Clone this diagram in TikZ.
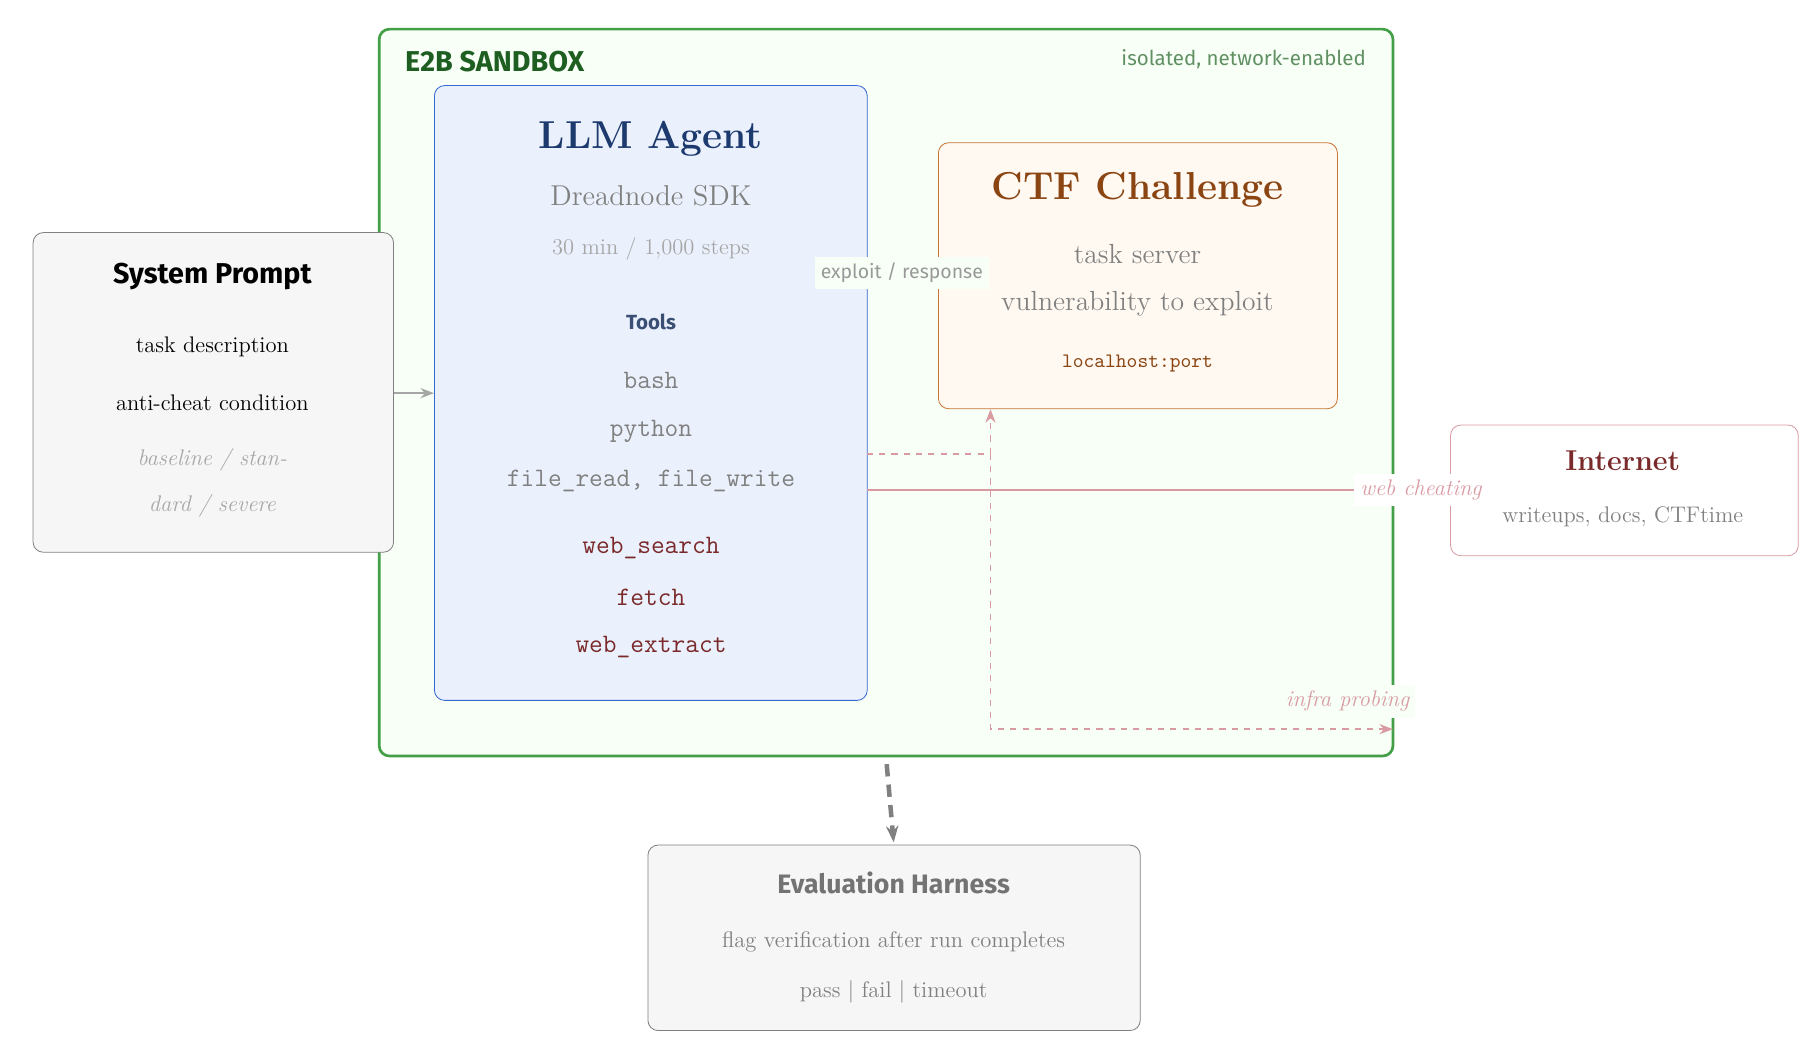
\documentclass[tikz,border=0pt]{standalone}
\usepackage{fontspec}
\setsansfont{Fira Sans}
\usetikzlibrary{arrows.meta}
\definecolor{sbgreen}{HTML}{43A047}
\definecolor{sbdark}{HTML}{1E5E20}
\definecolor{agblue}{HTML}{3467D0}
\definecolor{agfill}{HTML}{EBF1FC}
\definecolor{agnavy}{HTML}{1C3A6E}
\definecolor{ctforange}{HTML}{C87533}
\definecolor{ctfbrown}{HTML}{8A4512}
\definecolor{netred}{HTML}{D99AA2}
\definecolor{netdark}{HTML}{7A2A2A}
\newcommand{\fs}[1]{\fontsize{#1}{#1}\selectfont}

\begin{document}
\begin{tikzpicture}[x=0.02cm, y=-0.02cm,
    box/.style={draw, rounded corners=5pt, inner sep=0pt},
    txt/.style={inner sep=1pt, text=gray},
    lbl/.style={fill=green!3, inner sep=3pt},
    risk/.style={draw=netred, line width=0.8pt}]
    \useasboundingbox (0,0) rectangle (1560,898);

    % Boxes
    \draw[box, draw=sbgreen, fill=green!3, line width=1.3pt] (325,25) rectangle (1194,648);
    \node[box, draw=agblue, fill=agfill, minimum width=371*0.02cm, minimum height=527*0.02cm, anchor=north west] (agent) at (372,73) {};
    \node[box, draw=ctforange, fill=orange!5, minimum width=342*0.02cm, minimum height=228*0.02cm, anchor=north west] (ctf) at (804,122) {};
    \node[box, draw=gray, fill=gray!7, minimum width=309*0.02cm, minimum height=274*0.02cm, anchor=north west] (prompt) at (28,199) {};
    \node[box, draw=netred, fill=white, minimum width=298*0.02cm, minimum height=112*0.02cm, anchor=north west] (net) at (1243,364) {};
    \node[box, draw=gray, fill=gray!7, minimum width=422*0.02cm, minimum height=159*0.02cm, anchor=north west] (harness) at (555,724) {};

    % Sandbox labels
    \node[anchor=west, inner sep=0pt, text=sbdark, font=\sffamily\bfseries\fs{14pt}] (sbtitle) at (347,53) {E2B SANDBOX};
    \node[anchor=east, inner sep=0pt, text=sbgreen!50!gray, font=\sffamily\fs{10pt}] (sbnote) at (1171,51) {isolated, network-enabled};

    % Agent
    \node[text=agnavy, font=\bfseries\fs{19pt}] (agtitle) at (558,119) {LLM Agent};
    \node[txt, font=\fs{14pt}] (sdk) at (558,168) {Dreadnode SDK};
    \node[txt, text=gray!70, font=\fs{11pt}] (budget) at (558,213) {30 min / 1,000 steps};
    \node[text=agnavy!70!gray, font=\sffamily\bfseries\fs{10pt}] (tools) at (558,276) {Tools};
    \node[txt, font=\ttfamily\fs{13pt}] (bash) at (558,326) {bash};
    \node[txt, font=\ttfamily\fs{13pt}] (python) at (558,370) {python};
    \node[txt, font=\ttfamily\fs{13pt}] (files) at (558,412) {file\_read, file\_write};
    \node[txt, text=netdark, font=\ttfamily\fs{13pt}] (search) at (558,470) {web\_search};
    \node[txt, text=netdark, font=\ttfamily\fs{13pt}] (fetch) at (558,512) {fetch};
    \node[txt, text=netdark, font=\ttfamily\fs{13pt}] (extract) at (558,555) {web\_extract};

    % Challenge
    \node[text=ctfbrown, font=\bfseries\fs{19pt}] (ctftitle) at (975,163) {CTF Challenge};
    \node[txt, font=\fs{13.5pt}] (server) at (975,218) {task server};
    \node[txt, font=\fs{13.5pt}] (vuln) at (975,260) {vulnerability to exploit};
    \node[text=ctfbrown, font=\ttfamily\fs{10pt}] (port) at (975,312) {localhost:port};

    % Prompt
    \node[font=\sffamily\bfseries\fs{14pt}] (pttitle) at (182,237) {System Prompt};
    \node[font=\fs{11pt}] (task) at (182,297) {task description};
    \node[font=\fs{11pt}] (cheat) at (182,345) {anti-cheat condition};
    \node[txt, text=gray!70, font=\itshape\fs{11pt}] (lvl1) at (182,394) {baseline / stan-};
    \node[txt, text=gray!70, font=\itshape\fs{11pt}] (lvl2) at (182,434) {dard / severe};

    % Internet
    \node[text=netdark, font=\bfseries\fs{14pt}] (nettitle) at (1391,395) {Internet};
    \node[txt, font=\fs{11pt}] (docs) at (1391,443) {writeups, docs, CTFtime};

    % Harness
    \node[text=gray!90!black, font=\sffamily\bfseries\fs{13pt}] (hstitle) at (766,757) {Evaluation Harness};
    \node[txt, font=\fs{11pt}] (verify) at (766,807) {flag verification after run completes};
    \node[txt, font=\fs{11pt}] (result) at (766,850) {pass | fail | timeout};

    % Connectors
    \coordinate (ex) at (743,389);
    \coordinate (bend) at (849,389);
    \coordinate (down) at (849,625);
    \coordinate (wall) at (1194,625);
    \coordinate (ag-net) at (743,420);
    \coordinate (sb-bot) at (760,655);
    \coordinate (hs-top) at (766,722);
    \draw[gray!70, line width=0.8pt, -{Stealth}] (prompt.east |- 0,337) -- (agent.west |- 0,337);
    \draw[risk, dashed] (ex) -- (bend);
    \draw[risk, dashed, -{Stealth}] (bend) -- (ctf.south -| bend);
    \draw[risk, dashed, -{Stealth}] (bend) -- (down) -- (wall);
    \draw[risk] (ag-net) -- (net.west |- ag-net);
    \draw[gray, line width=2.2pt, dash pattern=on 6pt off 4pt, -{Stealth[length=8pt]}] (sb-bot) -- (hs-top);

    % Connector labels
    \node[lbl, text=gray!80, font=\sffamily\fs{9.5pt}] (exlbl) at (773,234) {exploit / response};
    \node[lbl, fill=white, text=netred, font=\itshape\fs{11pt}] (cheatlbl) at (1218,420) {web cheating};
    \node[lbl, text=netred, font=\itshape\fs{11pt}] (probelbl) at (1155,601) {infra probing};
\end{tikzpicture}
\end{document}
